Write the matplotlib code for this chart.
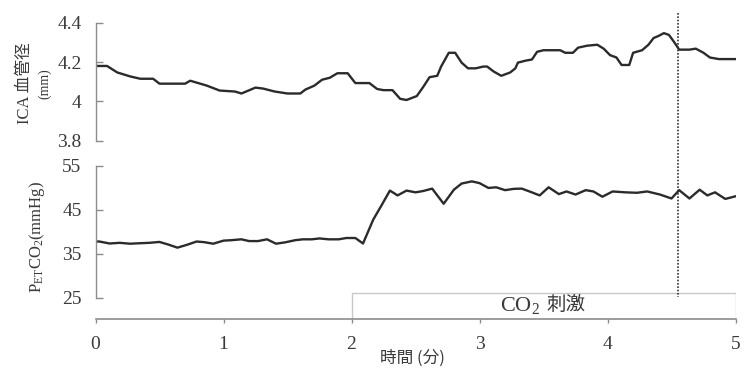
import matplotlib
matplotlib.use("Agg")
import matplotlib.pyplot as plt
import matplotlib.patches as mpatches
from matplotlib.lines import Line2D
import matplotlib.transforms as mtransforms

plt.rcParams['font.family'] = ['Liberation Serif', 'Noto Sans CJK JP']
plt.rcParams['mathtext.fontset'] = 'custom'
plt.rcParams['mathtext.rm'] = 'Liberation Serif'
plt.rcParams['mathtext.it'] = 'Liberation Serif:italic'

# ICA diameter (mm) vs time (min)
t_ica = [0.00, 0.09, 0.17, 0.27, 0.35, 0.45, 0.50, 0.70, 0.74, 0.87, 0.97, 1.09, 1.14,
         1.25, 1.31, 1.40, 1.50, 1.60, 1.64, 1.71, 1.77, 1.83, 1.89, 1.97, 2.03, 2.14,
         2.20, 2.25, 2.32, 2.38, 2.43, 2.51, 2.56, 2.61, 2.67, 2.70, 2.76, 2.81, 2.86,
         2.91, 2.97, 3.03, 3.06, 3.11, 3.17, 3.24, 3.28, 3.30, 3.36, 3.41, 3.45, 3.50,
         3.63, 3.67, 3.73, 3.77, 3.84, 3.92, 3.97, 4.02, 4.07, 4.11, 4.17, 4.20, 4.27,
         4.32, 4.36, 4.40, 4.44, 4.48, 4.52, 4.56, 4.64, 4.69, 4.75, 4.80, 4.87, 5.00]
ica = [4.180, 4.180, 4.147, 4.127, 4.115, 4.115, 4.090, 4.090, 4.105, 4.080, 4.055, 4.050, 4.040,
       4.070, 4.065, 4.050, 4.040, 4.040, 4.060, 4.080, 4.110, 4.120, 4.143, 4.143, 4.093, 4.093,
       4.063, 4.057, 4.057, 4.013, 4.007, 4.027, 4.073, 4.123, 4.130, 4.177, 4.247, 4.247, 4.197,
       4.168, 4.168, 4.177, 4.177, 4.152, 4.130, 4.147, 4.168, 4.197, 4.207, 4.213, 4.252, 4.260,
       4.260, 4.247, 4.247, 4.273, 4.283, 4.288, 4.268, 4.235, 4.223, 4.185, 4.185, 4.247, 4.260,
       4.288, 4.322, 4.333, 4.347, 4.338, 4.302, 4.263, 4.263, 4.268, 4.247, 4.223, 4.215, 4.215]

# end-tidal CO2 (mmHg) vs time (min)
t_co2 = [0.00, 0.03, 0.11, 0.19, 0.27, 0.34, 0.42, 0.50, 0.57, 0.64, 0.72, 0.79, 0.85, 0.92,
         1.00, 1.06, 1.14, 1.20, 1.27, 1.34, 1.41, 1.48, 1.56, 1.62, 1.69, 1.75, 1.82, 1.90,
         1.96, 2.03, 2.09, 2.17, 2.23, 2.30, 2.36, 2.43, 2.50, 2.56, 2.63, 2.72, 2.80, 2.86,
         2.94, 3.00, 3.07, 3.13, 3.20, 3.27, 3.33, 3.40, 3.47, 3.54, 3.62, 3.68, 3.75, 3.83,
         3.89, 3.96, 4.04, 4.14, 4.23, 4.31, 4.41, 4.50, 4.56, 4.64, 4.72, 4.78, 4.84, 4.92, 5.00]
petco2 = [37.8, 37.8, 37.35, 37.5, 37.3, 37.4, 37.5, 37.7, 37.1, 36.4, 37.1, 37.8, 37.65, 37.3,
          38.0, 38.1, 38.3, 37.9, 37.9, 38.3, 37.3, 37.6, 38.1, 38.3, 38.3, 38.5, 38.3, 38.3,
          38.6, 38.6, 37.35, 42.8, 45.8, 49.4, 48.3, 49.4, 49.0, 49.3, 49.85, 46.4, 49.6, 51.0,
          51.5, 51.1, 50.0, 50.15, 49.5, 49.8, 49.85, 49.1, 48.3, 50.15, 48.6, 49.2, 48.5, 49.5,
          49.2, 48.0, 49.2, 49.0, 48.9, 49.2, 48.5, 47.6, 49.5, 47.6, 49.6, 48.3, 49.0, 47.5, 48.1]

stim_start, stim_end = 2.0, 5.0
marker_time = 4.55

ica_ticks = [3.8, 4.0, 4.2, 4.4]
ica_labels = ['3.8', '4', '4.2', '4.4']
co2_ticks = [25, 35, 45, 55]
x_ticks = [0, 1, 2, 3, 4, 5]

W, H = 747, 369
fig = plt.figure(figsize=(W / 100, H / 100), dpi=100)

spine_c = '#8c8c8c'
text_c = '#3a3a3a'
line_c = '#2b2b2b'

ax1 = fig.add_axes([95.5 / W, 1 - 140.7 / H, 640 / W, 118 / H])
ax2 = fig.add_axes([95.5 / W, 1 - 319 / H, 640 / W, 153 / H])

ax1.plot(t_ica, ica, color=line_c, lw=1.7)
ax1.set_xlim(0, 5)
ax1.set_ylim(3.8, 4.4)
ax1.set_yticks(ica_ticks)
ax1.set_yticklabels(ica_labels)
ax1.set_xticks([])
for s in ['top', 'right', 'bottom']:
    ax1.spines[s].set_visible(False)

ax2.plot(t_co2, petco2, color=line_c, lw=1.7)
ax2.set_xlim(0, 5)
ax2.set_ylim(20.15, 55)
ax2.set_yticks(co2_ticks)
ax2.set_xticks(x_ticks)
ax2.spines['left'].set_bounds(25, 55)
for s in ['top', 'right']:
    ax2.spines[s].set_visible(False)

for ax in (ax1, ax2):
    ax.spines['left'].set_color(spine_c)
    ax.spines['bottom'].set_color(spine_c)
    ax.spines['left'].set_linewidth(1.0)
    ax.spines['bottom'].set_linewidth(1.2)
    ax.tick_params(axis='y', direction='in', length=5, width=1, color=spine_c,
                   labelsize=14, labelcolor=text_c, pad=10)
    ax.patch.set_visible(False)
ax2.tick_params(axis='x', direction='out', length=3, width=1, color=spine_c,
                labelsize=14, labelcolor=text_c, pad=9)

# CO2 stimulus bar, sitting on the time axis
y0 = ax2.get_ylim()[0]
rect = mpatches.Rectangle((stim_start, y0), stim_end - stim_start, 26.0 - y0,
                          facecolor='white', edgecolor='#c8c8c8', lw=1.0, zorder=1)
ax2.add_patch(rect)
mid = (stim_start + stim_end) / 2
ax2.text(mid - 0.03, 23.2, r'$\mathrm{CO_2}$', ha='right', va='center',
         fontsize=16, color=text_c)
ax2.text(mid + 0.02, 23.4, '刺激', ha='left', va='center',
         fontsize=14, color=text_c, family=['Noto Sans CJK JP'])

# dotted marker line spanning both panels
trans = mtransforms.blended_transform_factory(ax2.transData, fig.transFigure)
fig.add_artist(Line2D([marker_time, marker_time], [1 - 13 / H, 1 - 297 / H],
                      transform=trans, color='#333333', lw=1.2, ls=(0, (1, 1))))

# labels
fig.text(25 / W, 1 - 83 / H, 'ICA 血管径', rotation=90, ha='center', va='center',
         fontsize=12, color=text_c)
fig.text(45 / W, 1 - 84 / H, '(mm)', rotation=90, ha='center', va='center',
         fontsize=10, color=text_c)
fig.text(37 / W, 1 - 237 / H, r'$\mathrm{P_{ET}CO_2}$(mmHg)', rotation=90, ha='center',
         va='center', fontsize=12, color=text_c)
fig.text(412 / W, 1 - 358 / H, '時間 (分)', ha='center', va='center', fontsize=12,
         color=text_c, family=['Noto Sans CJK JP', 'Liberation Serif'])

fig.savefig('out.png', dpi=100)
